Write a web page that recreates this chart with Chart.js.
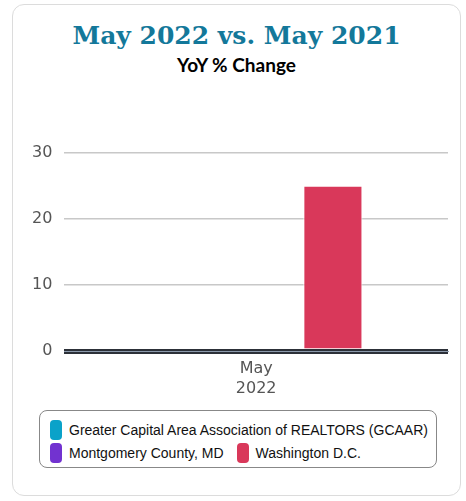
<!DOCTYPE html>
<html>
<head>
<meta charset="utf-8">
<script src="https://cdn.jsdelivr.net/npm/chart.js@4/dist/chart.umd.min.js"></script>
<style>
  html,body{margin:0;padding:0;background:#fff;}
  .card{position:absolute;left:12px;top:4px;width:449px;height:492px;border:1px solid #dcdcdc;border-radius:12px;box-sizing:border-box;}
  h1{position:absolute;left:0;right:0;top:0;margin:0;text-align:center;font-family:"DejaVu Serif",serif;font-weight:bold;font-size:25px;color:#13789a;line-height:30px;padding-top:16px;}
  h2{position:absolute;left:0;right:0;top:48px;margin:0;text-align:center;font-family:"Lato","Noto Sans",sans-serif;font-weight:bold;font-size:19px;color:#000;}
  .chartBox{position:absolute;left:0;top:126px;width:449px;height:268px;}
  .legend{position:absolute;left:26px;top:405px;width:398px;height:58px;border:1px solid #888;border-radius:8px;box-sizing:border-box;padding:7px 0 0 10px;font-family:"Liberation Sans",Arial,sans-serif;font-size:14px;color:#111;white-space:nowrap;}
  .legend .row{height:23px;display:flex;align-items:center;}
  .legend .item{display:flex;align-items:center;margin-right:13px;flex:none;}
  .legend .sw{width:12px;height:20px;border-radius:4px;margin-right:7px;flex:none;}
</style>
</head>
<body>
<div class="card">
  <h1>May 2022 vs. May 2021</h1>
  <h2>YoY % Change</h2>
  <div class="chartBox"><canvas id="yoyChart"></canvas></div>
  <div class="legend" id="legend"></div>
</div>
<script>
(function(){
  // data
  const categories = [['May','2022']];
  const seriesNames = ['Greater Capital Area Association of REALTORS (GCAAR)','Montgomery County, MD','Washington D.C.'];
  const seriesColors = ['#0aa2c9','#7232d0','#d9385a'];
  const gcaarValues = [0];
  const montgomeryValues = [0];
  const dcValues = [25];
  const yTicks = [0,10,20,30];
  const legendRows = [[0],[1,2]];

  const seriesValues = [gcaarValues, montgomeryValues, dcValues];

  const ctx = document.getElementById('yoyChart').getContext('2d');
  new Chart(ctx, {
    type: 'bar',
    data: {
      labels: categories,
      datasets: seriesNames.map((name,i)=>({
        label: name, data: seriesValues[i], backgroundColor: seriesColors[i],
        borderColor:'#fff', borderWidth:1,
        categoryPercentage:0.6, barPercentage:0.77
      }))
    },
    options: {
      responsive:true, maintainAspectRatio:false, animation:false,
      layout:{ padding:{ left:7, right:14, top:10, bottom:0 } },
      plugins:{ legend:{display:false}, tooltip:{enabled:false} },
      scales:{
        x:{
          z:1,
          grid:{display:false},
          border:{display:true, color:'#8b99ab', width:1},
          ticks:{ color:'#555', font:{family:'DejaVu Sans', size:16, lineHeight:1.25}, padding:0 }
        },
        y:{
          min:yTicks[0], max:yTicks[yTicks.length-1],
          afterBuildTicks: axis => { axis.ticks = yTicks.map(v=>({value:v})); },
          border:{display:false},
          grid:{
            color: c => c.tick.value === 0 ? '#2c3038' : '#c8c8c8',
            lineWidth: c => c.tick.value === 0 ? 5 : 1.5,
            drawTicks:false
          },
          ticks:{ color:'#555', font:{family:'DejaVu Sans', size:16}, padding:12 }
        }
      }
    }
  });

  // html legend with rounded frame
  const legend = document.getElementById('legend');
  legendRows.forEach(row=>{
    const r = document.createElement('div'); r.className='row';
    row.forEach(i=>{
      const it = document.createElement('div'); it.className='item';
      it.innerHTML = `<span class="sw" style="background:${seriesColors[i]}"></span><span>${seriesNames[i]}</span>`;
      r.appendChild(it);
    });
    legend.appendChild(r);
  });
})();
</script>
</body>
</html>
